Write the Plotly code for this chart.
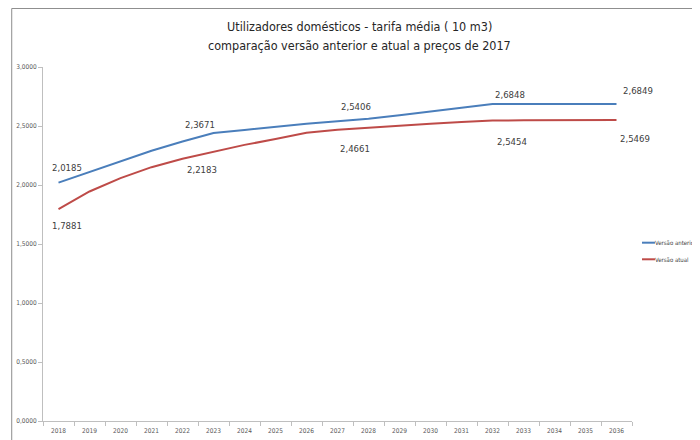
import plotly.graph_objects as go

years = [str(y) for y in range(2018, 2037)]
series_names = ["Versão anterior", "Versão atual"]
versao_anterior = [2.020, 2.108, 2.197, 2.290, 2.368, 2.440, 2.466, 2.493, 2.519, 2.540,
                   2.561, 2.591, 2.625, 2.655, 2.686, 2.686, 2.686, 2.686, 2.686]
versao_atual = [1.795, 1.945, 2.058, 2.151, 2.222, 2.284, 2.340, 2.389, 2.442, 2.468,
                2.487, 2.504, 2.519, 2.533, 2.547, 2.548, 2.548, 2.549, 2.550]

label_idx = [0, 5, 10, 14, 18]
labels_anterior = ["2,0185", "2,3671", "2,5406", "2,6848", "2,6849"]
labels_atual = ["1,7881", "2,2183", "2,4661", "2,5454", "2,5469"]
shift_anterior = [(8, 15), (-14, 9), (-13, 12), (17, 10), (21, 14)]
shift_atual = [(8, -16), (-12, -18), (-14, -21), (19, -21), (18, -18)]

y_ticks = [0, 0.5, 1.0, 1.5, 2.0, 2.5, 3.0]
y_tick_text = ["0,0000", "0,5000", "1,0000", "1,5000", "2,0000", "2,5000", "3,0000"]

title_lines = ["Utilizadores domésticos - tarifa média ( 10 m3)",
               "comparação versão anterior e atual a preços de 2017"]

BLUE = "#4A7EBB"
RED = "#BE4B48"
COLORS = [BLUE, RED]
FONT = "DejaVu Sans Condensed, DejaVu Sans, sans-serif"

fig = go.Figure()
for name, vals, col in zip(series_names, [versao_anterior, versao_atual], COLORS):
    fig.add_trace(go.Scatter(x=years, y=vals, mode="lines", name=name,
                             line=dict(color=col, width=2), showlegend=False))

annotations = []
for series, labels, shifts in [(versao_anterior, labels_anterior, shift_anterior),
                               (versao_atual, labels_atual, shift_atual)]:
    for i, txt, (dx, dy) in zip(label_idx, labels, shifts):
        annotations.append(dict(x=i, y=series[i], xref="x", yref="y", text=txt,
                                showarrow=False, xshift=dx, yshift=dy,
                                font=dict(family=FONT, size=9.5, color="#404040")))

# title (two lines)
for txt, yy in zip(title_lines, [1.1158, 1.0607]):
    annotations.append(dict(x=0.5382, y=yy, xref="paper", yref="paper", text=txt,
                            showarrow=False, xanchor="center", yanchor="middle",
                            font=dict(family=FONT, size=12.5, color="#262626")))

# legend (drawn manually so it sits at the right edge like the reference)
shapes = []
for name, col, yy in zip(series_names, COLORS, [0.5037, 0.4568]):
    shapes.append(dict(type="line", xref="paper", yref="paper", x0=1.0170, x1=1.0390,
                       y0=yy, y1=yy, line=dict(color=col, width=2)))
    annotations.append(dict(x=1.0357, y=yy, xref="paper", yref="paper", text=name,
                            showarrow=False, xanchor="left", yanchor="middle",
                            font=dict(family=FONT, size=6, color="#404040")))

# chart-area frame (top and left edges visible)
shapes.append(dict(type="line", xref="paper", yref="paper", x0=-0.0531, x1=1.2,
                   y0=1.1653, y1=1.1653, line=dict(color="#8C8C8C", width=1)))
shapes.append(dict(type="line", xref="paper", yref="paper", x0=-0.0531, x1=-0.0531,
                   y0=1.1653, y1=-0.2, line=dict(color="#8C8C8C", width=1)))

fig.update_layout(
    width=692, height=432,
    paper_bgcolor="white", plot_bgcolor="white",
    margin=dict(l=35, r=68, t=59, b=19, autoexpand=False),
    showlegend=False,
    annotations=annotations,
    shapes=shapes,
    xaxis=dict(type="category", range=[-0.5, 18.5], showgrid=False, zeroline=False,
               showline=True, linecolor="#BFBFBF", linewidth=1,
               ticks="outside", tickson="boundaries", ticklen=4, tickcolor="#BFBFBF",
               ticklabelstandoff=3,
               tickfont=dict(family=FONT, size=6.5, color="#595959")),
    yaxis=dict(range=[0, 3], showgrid=False, zeroline=False,
               showline=True, linecolor="#BFBFBF", linewidth=1,
               ticks="outside", ticklen=4, tickcolor="#BFBFBF",
               tickvals=y_ticks, ticktext=y_tick_text,
               tickfont=dict(family=FONT, size=6.5, color="#595959")),
)

fig.write_html("out.html")
